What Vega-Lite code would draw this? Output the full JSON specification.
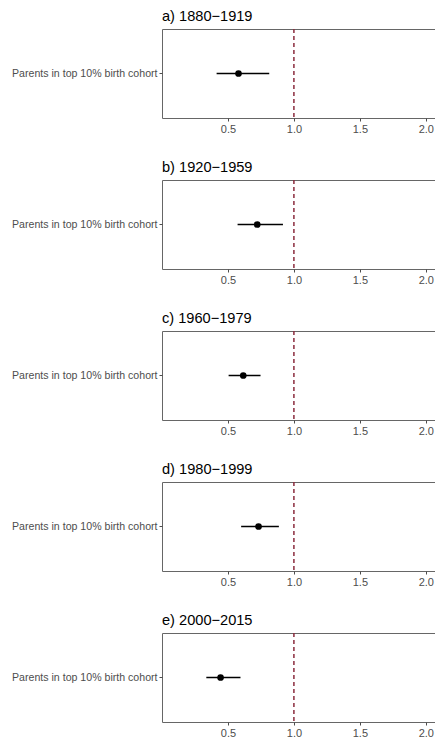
{
  "$schema": "https://vega.github.io/schema/vega-lite/v6.json",
  "padding": {"left": 11, "top": 8, "right": 0, "bottom": 0},
  "background": "white",
  "datasets": {
    "est": [
      {"panel": "a", "label": "Parents in top 10% birth cohort", "est": 0.58, "lo": 0.414, "hi": 0.813},
      {"panel": "b", "label": "Parents in top 10% birth cohort", "est": 0.722, "lo": 0.573, "hi": 0.917},
      {"panel": "c", "label": "Parents in top 10% birth cohort", "est": 0.616, "lo": 0.505, "hi": 0.747},
      {"panel": "d", "label": "Parents in top 10% birth cohort", "est": 0.732, "lo": 0.6, "hi": 0.886},
      {"panel": "e", "label": "Parents in top 10% birth cohort", "est": 0.444, "lo": 0.336, "hi": 0.595}
    ]
  },
  "config": {
    "font": "Liberation Sans",
    "view": {"stroke": "#666666", "strokeWidth": 1},
    "axis": {"grid": false, "domain": false, "tickColor": "#4d4d4d", "tickSize": 3, "labelColor": "#4d4d4d", "labelFontSize": 11, "labelFont": "Liberation Sans", "labelPadding": 2, "title": null},
    "axisY": {"labelFontSize": 10.6},
    "title": {"anchor": "start", "frame": "group", "fontSize": 14.6, "fontWeight": "normal", "color": "#000000", "font": "Liberation Sans", "offset": 5}
  },
  "spacing": 24,
  "vconcat": [
    {
      "title": "a) 1880\u22121919",
      "width": 277, "height": 89,
      "data": {"name": "est"},
      "transform": [{"filter": "datum.panel === 'a'"}],
      "layer": [
        {"mark": {"type": "rule", "color": "#8b2c3e", "strokeWidth": 1.5, "strokeDash": [4, 3]}, "encoding": {"x": {"datum": 1, "type": "quantitative", "scale": {"domain": [0.0, 2.1], "nice": false, "zero": false}, "axis": {"values": [0.5, 1.0, 1.5, 2.0], "format": ".1f"}}}},
        {"mark": {"type": "rule", "color": "black", "strokeWidth": 1.5}, "encoding": {"y": {"field": "label", "type": "nominal", "axis": {"title": null}}, "x": {"field": "lo", "type": "quantitative"}, "x2": {"field": "hi"}}},
        {"mark": {"type": "point", "filled": true, "color": "black", "size": 45, "opacity": 1}, "encoding": {"y": {"field": "label", "type": "nominal"}, "x": {"field": "est", "type": "quantitative"}}}
      ]
    },
    {
      "title": "b) 1920\u22121959",
      "width": 277, "height": 89,
      "data": {"name": "est"},
      "transform": [{"filter": "datum.panel === 'b'"}],
      "layer": [
        {"mark": {"type": "rule", "color": "#8b2c3e", "strokeWidth": 1.5, "strokeDash": [4, 3]}, "encoding": {"x": {"datum": 1, "type": "quantitative", "scale": {"domain": [0.0, 2.1], "nice": false, "zero": false}, "axis": {"values": [0.5, 1.0, 1.5, 2.0], "format": ".1f"}}}},
        {"mark": {"type": "rule", "color": "black", "strokeWidth": 1.5}, "encoding": {"y": {"field": "label", "type": "nominal", "axis": {"title": null}}, "x": {"field": "lo", "type": "quantitative"}, "x2": {"field": "hi"}}},
        {"mark": {"type": "point", "filled": true, "color": "black", "size": 45, "opacity": 1}, "encoding": {"y": {"field": "label", "type": "nominal"}, "x": {"field": "est", "type": "quantitative"}}}
      ]
    },
    {
      "title": "c) 1960\u22121979",
      "width": 277, "height": 89,
      "data": {"name": "est"},
      "transform": [{"filter": "datum.panel === 'c'"}],
      "layer": [
        {"mark": {"type": "rule", "color": "#8b2c3e", "strokeWidth": 1.5, "strokeDash": [4, 3]}, "encoding": {"x": {"datum": 1, "type": "quantitative", "scale": {"domain": [0.0, 2.1], "nice": false, "zero": false}, "axis": {"values": [0.5, 1.0, 1.5, 2.0], "format": ".1f"}}}},
        {"mark": {"type": "rule", "color": "black", "strokeWidth": 1.5}, "encoding": {"y": {"field": "label", "type": "nominal", "axis": {"title": null}}, "x": {"field": "lo", "type": "quantitative"}, "x2": {"field": "hi"}}},
        {"mark": {"type": "point", "filled": true, "color": "black", "size": 45, "opacity": 1}, "encoding": {"y": {"field": "label", "type": "nominal"}, "x": {"field": "est", "type": "quantitative"}}}
      ]
    },
    {
      "title": "d) 1980\u22121999",
      "width": 277, "height": 89,
      "data": {"name": "est"},
      "transform": [{"filter": "datum.panel === 'd'"}],
      "layer": [
        {"mark": {"type": "rule", "color": "#8b2c3e", "strokeWidth": 1.5, "strokeDash": [4, 3]}, "encoding": {"x": {"datum": 1, "type": "quantitative", "scale": {"domain": [0.0, 2.1], "nice": false, "zero": false}, "axis": {"values": [0.5, 1.0, 1.5, 2.0], "format": ".1f"}}}},
        {"mark": {"type": "rule", "color": "black", "strokeWidth": 1.5}, "encoding": {"y": {"field": "label", "type": "nominal", "axis": {"title": null}}, "x": {"field": "lo", "type": "quantitative"}, "x2": {"field": "hi"}}},
        {"mark": {"type": "point", "filled": true, "color": "black", "size": 45, "opacity": 1}, "encoding": {"y": {"field": "label", "type": "nominal"}, "x": {"field": "est", "type": "quantitative"}}}
      ]
    },
    {
      "title": "e) 2000\u22122015",
      "width": 277, "height": 89,
      "data": {"name": "est"},
      "transform": [{"filter": "datum.panel === 'e'"}],
      "layer": [
        {"mark": {"type": "rule", "color": "#8b2c3e", "strokeWidth": 1.5, "strokeDash": [4, 3]}, "encoding": {"x": {"datum": 1, "type": "quantitative", "scale": {"domain": [0.0, 2.1], "nice": false, "zero": false}, "axis": {"values": [0.5, 1.0, 1.5, 2.0], "format": ".1f"}}}},
        {"mark": {"type": "rule", "color": "black", "strokeWidth": 1.5}, "encoding": {"y": {"field": "label", "type": "nominal", "axis": {"title": null}}, "x": {"field": "lo", "type": "quantitative"}, "x2": {"field": "hi"}}},
        {"mark": {"type": "point", "filled": true, "color": "black", "size": 45, "opacity": 1}, "encoding": {"y": {"field": "label", "type": "nominal"}, "x": {"field": "est", "type": "quantitative"}}}
      ]
    }
  ]
}
